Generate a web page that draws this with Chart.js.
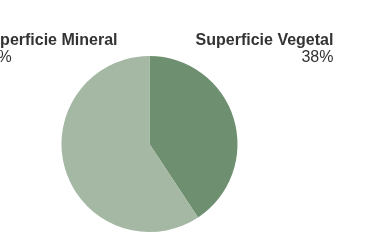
<!DOCTYPE html>
<html>
<head>
<meta charset="utf-8">
<script src="https://cdn.jsdelivr.net/npm/chart.js@4"></script>
<style>
  html, body { margin: 0; padding: 0; background: #fff; }
  #wrap { width: 382px; height: 249px; }
</style>
</head>
<body>
<div id="wrap"><canvas id="c"></canvas></div>
<script>
const labels = ["Superficie Vegetal", "Superficie Mineral"];
const values = [40.7, 59.3];
const pctText = ["38%", "62%"];
const colors = ["#6e9070", "#a4b8a4"];

// labels outside the pie, one on each side
const sideLabels = {
  id: 'sideLabels',
  afterDraw(chart) {
    const ctx = chart.ctx;
    const arcs = chart.getDatasetMeta(0).data;
    ctx.save();
    ctx.fillStyle = '#333';
    ctx.textBaseline = 'middle';
    arcs.forEach((a, i) => {
      const mid = (a.startAngle + a.endAngle) / 2;
      const right = Math.cos(mid) > 0;
      let x, align;
      if (right) { x = a.x + a.outerRadius * 2.09; align = 'right'; }
      else { x = a.x - a.outerRadius * 1.93; align = 'left'; }
      const y = a.y - a.outerRadius * 1.17;
      ctx.textAlign = align;
      ctx.font = 'bold 16px "Liberation Sans", Arial, sans-serif';
      ctx.fillText(labels[i], x, y);
      ctx.font = '16px "Liberation Sans", Arial, sans-serif';
      ctx.fillText(pctText[i], x, y + 17);
    });
    ctx.restore();
  }
};

new Chart(document.getElementById('c'), {
  type: 'pie',
  data: {
    labels: labels,
    datasets: [{
      data: values,
      backgroundColor: colors,
      borderWidth: 0
    }]
  },
  options: {
    responsive: true,
    maintainAspectRatio: false,
    animation: false,
    layout: { padding: { top: 56, bottom: 17, left: 0, right: 83 } },
    plugins: {
      legend: { display: false },
      tooltip: { enabled: false }
    }
  },
  plugins: [sideLabels]
});
</script>
</body>
</html>
